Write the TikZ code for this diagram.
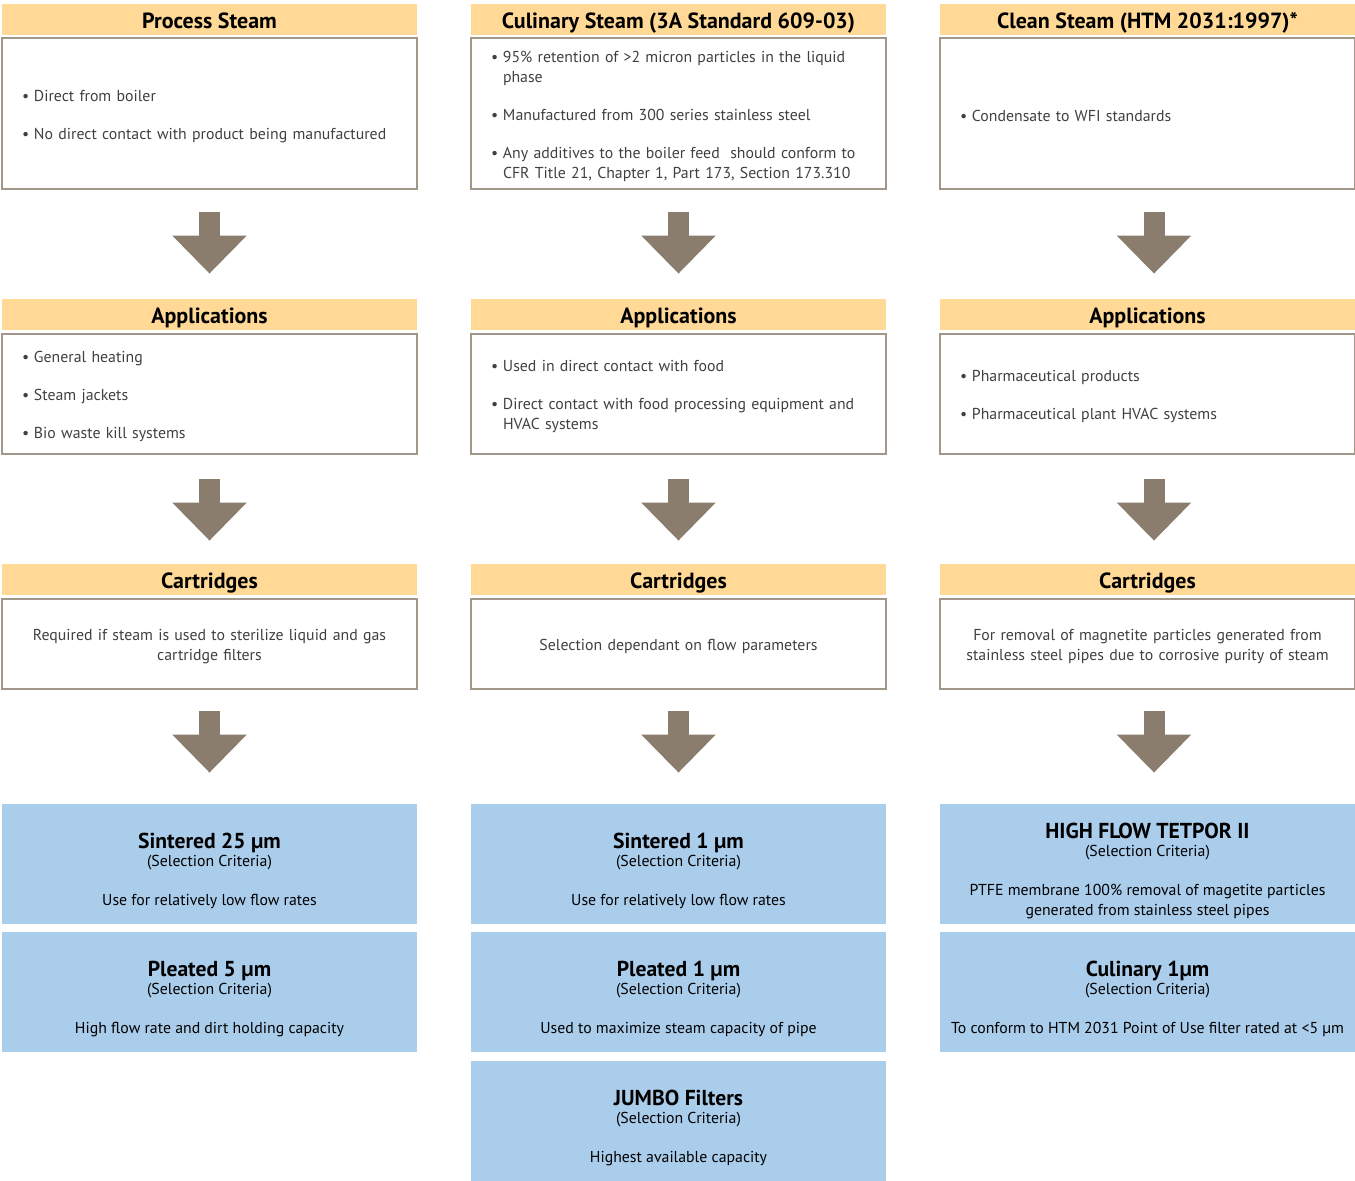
\documentclass[tikz,border=0pt]{standalone}
\usepackage{fontspec}
\setmainfont{PT Sans}
\usetikzlibrary{arrows.meta,positioning}

\definecolor{headyellow}{HTML}{FFD995}
\definecolor{boxline}{HTML}{A0968A}
\definecolor{arrowbrown}{HTML}{8A7D6D}
\definecolor{filterblue}{HTML}{ABCDEC}
\definecolor{bodygrey}{HTML}{404040}

% bullet item, continuation line and filter title
\newcommand{\itm}[1]{\makebox[0.24cm][l]{\textbullet}#1}
\newcommand{\cont}[1]{\hspace*{0.24cm}#1}
\newcommand{\ftitle}[1]{{\rule{0pt}{16.5pt}\fontsize{12.3}{13}\selectfont\bfseries #1}}

\begin{document}
\begin{tikzpicture}[
    head/.style={rectangle, fill=headyellow, minimum width=8.3cm, minimum height=0.62cm, inner sep=0pt, text height=10pt, text depth=0.3pt, font=\fontsize{12.5}{14}\selectfont\bfseries},
    listbox/.style={rectangle, draw=boxline, line width=0.9pt, text width=7.5cm, inner xsep=0.4cm, align=left, text=bodygrey, font=\fontsize{9}{11.4}\selectfont, execute at begin node={\rule{0pt}{9.5pt}}},
    cartbox/.style={rectangle, draw=boxline, line width=0.9pt, text width=7.9cm, inner xsep=0.2cm, align=center, text=bodygrey, font=\fontsize{9}{11.4}\selectfont, minimum height=1.8cm, execute at begin node={\rule{0pt}{9.5pt}}},
    filterbox/.style={rectangle, fill=filterblue, minimum width=8.3cm, minimum height=2.4cm, inner ysep=0.1cm, align=center, font=\fontsize{9}{11.4}\selectfont},
    arrow/.style={arrowbrown, line width=0.42cm, -{Triangle[width=1.44cm, length=0.76cm]}}
]
\useasboundingbox (0,0) rectangle (27.1,-23.62);

% Steam types
\node[head] (h1) at (4.19,-0.39) {Process Steam};
\node[head] (h2) at (13.57,-0.39) {Culinary Steam (3A Standard 609-03)};
\node[head] (h3) at (22.95,-0.39) {Clean Steam (HTM 2031:1997)*};

\node[listbox, minimum height=3.02cm] (b1) at (4.19,-2.27) {\itm{Direct from boiler}\\[0.36cm]
    \itm{No direct contact with product being manufactured}};
\node[listbox, minimum height=3.02cm] (b2) at (13.57,-2.27) {\itm{95\% retention of >2 micron particles in the liquid}\\
    \cont{phase}\\[0.36cm]
    \itm{Manufactured from 300 series stainless steel}\\[0.36cm]
    \itm{Any additives to the boiler feed\ \ should conform to}\\
    \cont{CFR Title 21, Chapter 1, Part 173, Section 173.310}};
\node[listbox, minimum height=3.02cm] (b3) at (22.95,-2.27) {\itm{Condensate to WFI standards}};

% Applications
\node[head] (a1) at (4.19,-6.29) {Applications};
\node[head] (a2) at (13.57,-6.29) {Applications};
\node[head] (a3) at (22.95,-6.29) {Applications};

\node[listbox, minimum height=2.4cm] (ab1) at (4.19,-7.88) {\itm{General heating}\\[0.36cm]
    \itm{Steam jackets}\\[0.36cm]
    \itm{Bio waste kill systems}};
\node[listbox, minimum height=2.4cm] (ab2) at (13.57,-7.88) {\itm{Used in direct contact with food}\\[0.36cm]
    \itm{Direct contact with food processing equipment and}\\
    \cont{HVAC systems}};
\node[listbox, minimum height=2.4cm] (ab3) at (22.95,-7.88) {\itm{Pharmaceutical products}\\[0.36cm]
    \itm{Pharmaceutical plant HVAC systems}};

% Cartridges
\node[head] (c1) at (4.19,-11.59) {Cartridges};
\node[head] (c2) at (13.57,-11.59) {Cartridges};
\node[head] (c3) at (22.95,-11.59) {Cartridges};

\node[cartbox] (cb1) at (4.19,-12.88) {Required if steam is used to sterilize liquid and gas\\cartridge filters};
\node[cartbox] (cb2) at (13.57,-12.88) {Selection dependant on flow parameters};
\node[cartbox] (cb3) at (22.95,-12.88) {For removal of magnetite particles generated from\\stainless steel pipes due to corrosive purity of steam};

% Filters
\node[filterbox] (f1) at (4.19,-17.28) {\ftitle{Sintered 25 µm}\\[-1pt](Selection Criteria)\\[0.38cm]Use for relatively low flow rates};
\node[filterbox] (f2) at (4.19,-19.84) {\ftitle{Pleated 5 µm}\\[-1pt](Selection Criteria)\\[0.38cm]High flow rate and dirt holding capacity};
\node[filterbox] (f3) at (13.57,-17.28) {\ftitle{Sintered 1 µm}\\[-1pt](Selection Criteria)\\[0.38cm]Use for relatively low flow rates};
\node[filterbox] (f4) at (13.57,-19.84) {\ftitle{Pleated 1 µm}\\[-1pt](Selection Criteria)\\[0.38cm]Used to maximize steam capacity of pipe};
\node[filterbox] (f5) at (13.57,-22.42) {\ftitle{JUMBO Filters}\\[-1pt](Selection Criteria)\\[0.38cm]Highest available capacity};
\node[filterbox] (f6) at (22.95,-17.28) {\ftitle{HIGH FLOW TETPOR II}\\[-1pt](Selection Criteria)\\[0.38cm]PTFE membrane 100\% removal of magetite particles\\generated from stainless steel pipes};
\node[filterbox] (f7) at (22.95,-19.84) {\ftitle{Culinary 1µm}\\[-1pt](Selection Criteria)\\[0.38cm]To conform to HTM 2031 Point of Use filter rated at <5 µm};

% Arrows between stages
\draw[arrow] ([yshift=-0.44cm]b1.south) -- ([yshift=0.5cm]a1.north);
\draw[arrow] ([yshift=-0.44cm]b2.south) -- ([yshift=0.5cm]a2.north);
\draw[arrow] ([xshift=0.13cm,yshift=-0.44cm]b3.south) -- ([xshift=0.13cm,yshift=0.5cm]a3.north);
\draw[arrow] ([yshift=-0.48cm]ab1.south) -- ([yshift=0.46cm]c1.north);
\draw[arrow] ([yshift=-0.48cm]ab2.south) -- ([yshift=0.46cm]c2.north);
\draw[arrow] ([xshift=0.13cm,yshift=-0.48cm]ab3.south) -- ([xshift=0.13cm,yshift=0.46cm]c3.north);
\draw[arrow] ([yshift=-0.42cm]cb1.south) -- ([yshift=0.62cm]f1.north);
\draw[arrow] ([yshift=-0.42cm]cb2.south) -- ([yshift=0.62cm]f3.north);
\draw[arrow] ([xshift=0.13cm,yshift=-0.42cm]cb3.south) -- ([xshift=0.13cm,yshift=0.62cm]f6.north);

\end{tikzpicture}
\end{document}
